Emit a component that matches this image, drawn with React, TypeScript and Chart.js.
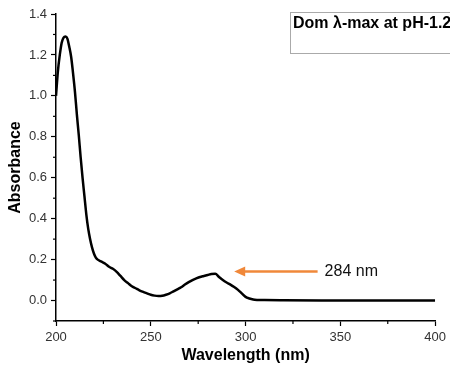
import React, { useEffect, useRef } from "react";
import { Chart, registerables } from "chart.js";

Chart.register(...registerables);

const wavelengths = [200, 201, 202, 203, 204, 205, 206, 207, 208, 209, 210, 211, 212, 213, 214, 215, 216, 217, 218, 219, 220, 221, 222, 224, 226, 228, 230, 232, 234, 236, 238, 240, 242, 244, 246, 248, 250, 252, 254, 256, 258, 260, 262, 264, 266, 268, 270, 272, 274, 276, 278, 280, 282, 284, 286, 288, 290, 292, 294, 296, 298, 300, 302, 304, 306, 310, 320, 340, 360, 380, 400];
const absorbance = [1.0, 1.12, 1.2, 1.26, 1.285, 1.29, 1.28, 1.24, 1.19, 1.11, 1.02, 0.91, 0.81, 0.7, 0.6, 0.51, 0.42, 0.35, 0.3, 0.26, 0.23, 0.21, 0.2, 0.19, 0.18, 0.165, 0.155, 0.14, 0.12, 0.1, 0.085, 0.07, 0.06, 0.05, 0.042, 0.035, 0.028, 0.024, 0.022, 0.023, 0.028, 0.035, 0.045, 0.055, 0.065, 0.078, 0.09, 0.1, 0.108, 0.115, 0.12, 0.125, 0.13, 0.131, 0.115, 0.1, 0.088, 0.078, 0.066, 0.052, 0.035, 0.018, 0.01, 0.005, 0.003, 0.002, 0.001, 0.0, 0.0, 0.0, 0.0];

const xMajorTicks = [200, 250, 300, 350, 400];
const xMinorTicks = [225, 275, 325, 375];
const yMajorTicks = [0.0, 0.2, 0.4, 0.6, 0.8, 1.0, 1.2, 1.4];
const yMinorTicks = [-0.1, 0.1, 0.3, 0.5, 0.7, 0.9, 1.1, 1.3];

const boxTitle = "Dom λ-max at pH-1.2";
const peakLabel = "284 nm";
const arrowHeadX = 294;
const arrowTailX = 338;
const arrowY = 0.142;

const FONT = "'Liberation Sans', Arial, Helvetica, sans-serif";

const decorPlugin = {
  id: "decor",
  afterDraw(chart: any) {
    const ctx = chart.ctx;
    const xs = chart.scales.x;
    const ys = chart.scales.y;
    ctx.save();
    // minor ticks
    ctx.strokeStyle = "#000";
    ctx.lineWidth = 1.2;
    const bottom = chart.chartArea.bottom;
    const left = chart.chartArea.left;
    xMinorTicks.forEach((v) => {
      const px = xs.getPixelForValue(v);
      ctx.beginPath();
      ctx.moveTo(px, bottom);
      ctx.lineTo(px, bottom + 3);
      ctx.stroke();
    });
    yMinorTicks.forEach((v) => {
      const py = ys.getPixelForValue(v);
      ctx.beginPath();
      ctx.moveTo(left, py);
      ctx.lineTo(left - 3, py);
      ctx.stroke();
    });
    // arrow
    const hx = xs.getPixelForValue(arrowHeadX);
    const tx = xs.getPixelForValue(arrowTailX);
    const ay = ys.getPixelForValue(arrowY);
    ctx.strokeStyle = "#F0883A";
    ctx.fillStyle = "#F0883A";
    ctx.lineWidth = 2.5;
    ctx.beginPath();
    ctx.moveTo(tx, ay);
    ctx.lineTo(hx + 8, ay);
    ctx.stroke();
    ctx.beginPath();
    ctx.moveTo(hx, ay);
    ctx.lineTo(hx + 11, ay - 5);
    ctx.lineTo(hx + 11, ay + 5);
    ctx.closePath();
    ctx.fill();
    // label
    ctx.fillStyle = "#111";
    ctx.font = `16px ${FONT}`;
    ctx.textBaseline = "middle";
    ctx.textAlign = "left";
    ctx.fillText(peakLabel, tx + 7, ay);
    // box
    ctx.fillStyle = "#fff";
    ctx.fillRect(290, 12, 200, 41);
    ctx.strokeStyle = "#aaa";
    ctx.lineWidth = 1;
    ctx.strokeRect(290.5, 12.5, 200, 41);
    ctx.fillStyle = "#000";
    ctx.font = `bold 16px ${FONT}`;
    ctx.fillText(boxTitle, 293, 24);
    ctx.restore();
  },
};

export default function App() {
  const ref = useRef<HTMLCanvasElement | null>(null);
  useEffect(() => {
    if (!ref.current) return;
    const chart = new Chart(ref.current, {
      type: "line",
      data: {
        datasets: [
          {
            data: wavelengths.map((w, i) => ({ x: w, y: absorbance[i] })),
            borderColor: "#000",
            borderWidth: 2.5,
            pointRadius: 0,
            cubicInterpolationMode: "monotone",
            fill: false,
          },
        ],
      },
      options: {
        animation: false,
        responsive: false,
        maintainAspectRatio: false,
        layout: { padding: { left: 6, top: 14, right: 13, bottom: 13 } },
        plugins: { legend: { display: false }, tooltip: { enabled: false } },
        scales: {
          x: {
            type: "linear",
            min: 200,
            max: 400,
            afterBuildTicks: (s: any) => {
              s.ticks = xMajorTicks.map((v) => ({ value: v }));
            },
            afterFit: (s: any) => {
              s.height = 44;
            },
            ticks: {
              color: "#333",
              font: { family: FONT, size: 13 },
              padding: 4,
              maxRotation: 0,
            },
            grid: {
              drawOnChartArea: false,
              drawTicks: true,
              tickLength: 5,
              tickColor: "#000",
              tickWidth: 1.2,
            },
            border: { color: "#000", width: 1.5 },
            title: {
              display: true,
              text: "Wavelength (nm)",
              color: "#000",
              font: { family: FONT, size: 16, weight: "bold" },
              padding: { top: 6, bottom: 0 },
            },
          },
          y: {
            type: "linear",
            min: -0.1,
            max: 1.4,
            afterBuildTicks: (s: any) => {
              s.ticks = yMajorTicks.map((v) => ({ value: v }));
            },
            afterFit: (s: any) => {
              s.width = 50;
            },
            ticks: {
              color: "#333",
              font: { family: FONT, size: 13 },
              padding: 4,
              callback: (v: any) => Number(v).toFixed(1),
            },
            grid: {
              drawOnChartArea: false,
              drawTicks: true,
              tickLength: 5,
              tickColor: "#000",
              tickWidth: 1.2,
            },
            border: { color: "#000", width: 1.5 },
            title: {
              display: true,
              text: "Absorbance",
              color: "#000",
              font: { family: FONT, size: 16, weight: "bold" },
              padding: { top: 0, bottom: 4 },
            },
          },
        },
      },
      plugins: [decorPlugin],
    } as any);
    return () => chart.destroy();
  }, []);
  return (
    <div style={{ position: "fixed", left: 0, top: 0, width: 450, height: 378, background: "#fff" }}>
      <canvas ref={ref} width={450} height={378} style={{ width: 450, height: 378 }} />
    </div>
  );
}
